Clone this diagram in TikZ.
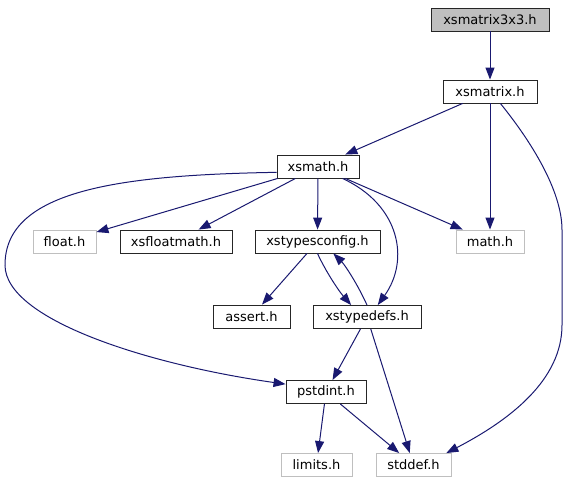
\documentclass[tikz,border=0pt]{standalone}
\usepackage{fontspec}
\setmainfont{DejaVu Sans}
\usepackage{tikz}
\usetikzlibrary{arrows.meta}
\usepackage{xcolor}
\definecolor{edgeblue}{HTML}{191970}
\definecolor{litegray}{HTML}{BFBFBF}

\begin{document}
\begin{tikzpicture}[x=1pt,y=-1pt,>={Triangle[length=12pt,width=9pt]},
  every node/.style={font=\fontsize{13}{15}\selectfont,minimum height=23pt,inner sep=0pt},
  hdr/.style={draw=black!85,line width=0.9pt},
  sys/.style={draw=litegray,line width=0.9pt},
  dep/.style={->,edgeblue,line width=1pt}]
\useasboundingbox (0,0) rectangle (567,485);
\node[hdr,fill=litegray,minimum width=118pt] (m3) at (490,19.5) {xsmatrix3x3.h};
\node[hdr,minimum width=94pt] (mat) at (490,91.5) {xsmatrix.h};
\node[hdr,minimum width=82pt] (xmath) at (318,166.5) {xsmath.h};
\node[sys,minimum width=63pt] (flt) at (64.5,241.5) {float.h};
\node[hdr,minimum width=112pt] (fmath) at (176,241.5) {xsfloatmath.h};
\node[hdr,minimum width=125pt] (cfg) at (317.5,241.5) {xstypesconfig.h};
\node[sys,minimum width=68pt] (cmath) at (490,241.5) {math.h};
\node[hdr,minimum width=77pt] (asrt) at (251.5,316.5) {assert.h};
\node[hdr,minimum width=108pt] (tdef) at (367,317) {xstypedefs.h};
\node[hdr,minimum width=80pt] (pstd) at (326,392) {pstdint.h};
\node[sys,minimum width=71pt] (lim) at (316.5,465) {limits.h};
\node[sys,minimum width=75pt] (sdef) at (413.5,465) {stddef.h};
\draw[dep] (m3) -- (mat);
\draw[dep] (mat) -- (xmath);
\draw[dep] (mat) -- (cmath);
\draw[dep] (mat.-49) .. controls (530,140) and (562,190) .. (562,230) -- (562,325)
  .. controls (562,380) and (510,420) .. (sdef.20);
\draw[dep] (xmath) -- (flt);
\draw[dep] (xmath) -- (fmath);
\draw[dep] (xmath) -- (cfg);
\draw[dep] (xmath) -- (cmath);
\draw[dep] (xmath.-26) .. controls (400,205) and (410,260) .. (tdef.48);
\draw[dep] (xmath.188) .. controls (120,175) and (5,190) .. (5,265)
  .. controls (5,320) and (150,365) .. (pstd.169);
\draw[dep] (cfg) -- (asrt);
\draw[dep] (cfg.south) .. controls (325,270) and (338,290) .. (tdef.143);
\draw[dep] (tdef.north) .. controls (358,285) and (345,265) .. (cfg.-37);
\draw[dep] (tdef) -- (pstd);
\draw[dep] (tdef) -- (sdef);
\draw[dep] (pstd) -- (lim);
\draw[dep] (pstd) -- (sdef);
\end{tikzpicture}
\end{document}
